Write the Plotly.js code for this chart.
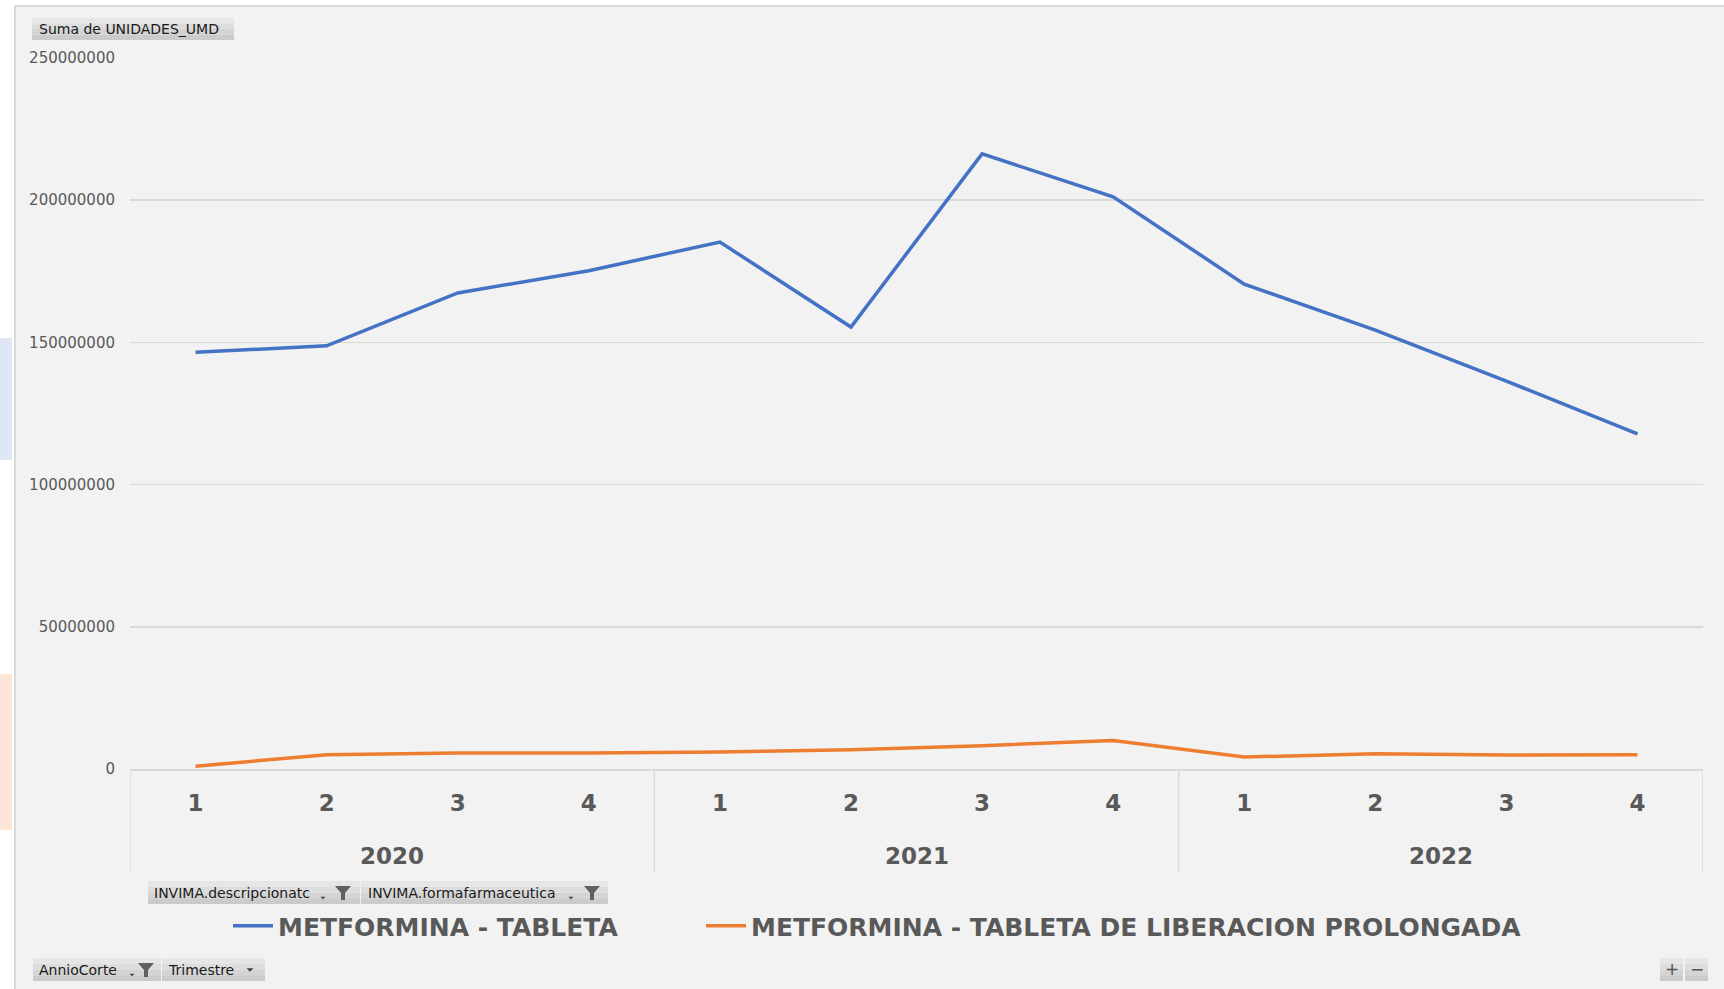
<!DOCTYPE html>
<html>
<head>
<meta charset="utf-8">
<script src="https://cdn.plot.ly/plotly-3.0.1.min.js"></script>
<style>html,body{margin:0;padding:0;background:#fff;}#chart{width:1724px;height:989px;}</style>
</head>
<body>
<div id="chart"></div>
<script>
// ---- data ----
const years = ['2020', '2021', '2022'];
const quarters = ['1', '2', '3', '4', '1', '2', '3', '4', '1', '2', '3', '4'];
const seriesNames = ['METFORMINA - TABLETA', 'METFORMINA - TABLETA DE LIBERACION PROLONGADA'];
const tableta = [146.5e6, 148.8e6, 167.4e6, 175.2e6, 185.3e6, 155.4e6, 216.3e6, 201.2e6, 170.5e6, 154.3e6, 136.4e6, 117.8e6];
const prolongada = [1.0e6, 5.0e6, 5.6e6, 5.6e6, 6.0e6, 6.8e6, 8.2e6, 10.0e6, 4.2e6, 5.4e6, 4.9e6, 5.0e6];
const yTicks = [0, 50000000, 100000000, 150000000, 200000000, 250000000];
const buttonLabels = ['Suma de UNIDADES_UMD', 'INVIMA.descripcionatc', 'INVIMA.formafarmaceutica', 'AnnioCorte', 'Trimestre'];

// ---- geometry (pixels) ----
const L = 130, R = 21, T = 58, B = 220, W = 1724, H = 989;
const PW = W - L - R, PH = H - T - B, BOT = H - B;
const fx = p => (p - L) / PW;
const fy = p => (BOT - p) / PH;

const xIdx = quarters.map((q, i) => i);
const grey = '#595959';

const traces = [
  {x: xIdx, y: tableta, name: seriesNames[0], type: 'scatter', mode: 'lines', legend: 'legend',
   line: {color: '#4472c4', width: 3.5}, hoverinfo: 'skip'},
  {x: xIdx, y: prolongada, name: seriesNames[1], type: 'scatter', mode: 'lines', legend: 'legend2',
   line: {color: '#ed7d31', width: 3.5}, hoverinfo: 'skip'}
];

const shapes = [];
const annotations = [];

// frame background
shapes.push({type: 'rect', xref: 'paper', yref: 'paper', x0: fx(15), x1: fx(1730), y0: fy(995), y1: fy(6),
  fillcolor: '#f2f2f2', line: {color: '#d9d9d9', width: 2}, layer: 'below'});
// left colored strips
shapes.push({type: 'rect', xref: 'paper', yref: 'paper', x0: fx(0), x1: fx(12), y0: fy(460), y1: fy(338),
  fillcolor: '#dfe7f5', line: {width: 0}, layer: 'below'});
shapes.push({type: 'rect', xref: 'paper', yref: 'paper', x0: fx(0), x1: fx(12), y0: fy(830), y1: fy(674),
  fillcolor: '#fbe5d6', line: {width: 0}, layer: 'below'});

// year dividers
[-0.5, 3.5, 7.5, 11.5].forEach(v => {
  shapes.push({type: 'line', xref: 'x', yref: 'paper', x0: v, x1: v, y0: 0, y1: fy(872),
    line: {color: '#d9d9d9', width: 1.5}});
});
// year labels
years.forEach((yr, i) => {
  annotations.push({xref: 'x', yref: 'paper', x: i * 4 + 1.5, y: fy(856), text: '<b>' + yr + '</b>',
    showarrow: false, xanchor: 'center', yanchor: 'middle',
    font: {family: 'DejaVu Sans, sans-serif', size: 23, color: grey}});
});

// pivot-style buttons
function button(x0, x1, y0, y1) {
  const bands = ['#e6e6e6', '#dddddd', '#d4d4d4', '#cbcbcb'];
  const h = (y1 - y0) / bands.length;
  bands.forEach((c, i) => {
    shapes.push({type: 'rect', xref: 'paper', yref: 'paper', x0: fx(x0), x1: fx(x1),
      y0: fy(y0 + h * (i + 1)), y1: fy(y0 + h * i), fillcolor: c, line: {width: 0}});
  });
}
function label(x, y, text, size) {
  annotations.push({xref: 'paper', yref: 'paper', x: fx(x), y: fy(y), text: text, showarrow: false,
    xanchor: 'left', yanchor: 'middle', font: {family: 'DejaVu Sans, sans-serif', size: size || 14, color: '#1a1a1a'}});
}
function poly(pts, color) {
  let d = '';
  pts.forEach((p, i) => { d += (i ? 'L' : 'M') + fx(p[0]) + ',' + fy(p[1]); });
  d += 'Z';
  shapes.push({type: 'path', xref: 'paper', yref: 'paper', path: d, fillcolor: color, line: {width: 0}});
}
function funnel(cx, cy) {
  poly([[cx - 8, cy - 7], [cx + 8, cy - 7], [cx + 2, cy], [cx + 2, cy + 7], [cx - 2, cy + 7], [cx - 2, cy]], '#606060');
}
function arrow(cx, cy, s) {
  poly([[cx - s, cy - s / 2], [cx + s, cy - s / 2], [cx, cy + s / 2]], '#404040');
}

button(32, 234, 18, 40); label(37, 29.5, buttonLabels[0], 14);
button(148, 360, 881, 904); label(152, 893, buttonLabels[1], 14); arrow(323, 898, 2.5); funnel(343, 893);
button(361, 608, 881, 904); label(366, 893, buttonLabels[2], 14); arrow(571, 898, 2.5); funnel(592, 893);
button(33, 161, 958, 981); label(37, 970, buttonLabels[3], 14); arrow(132, 975, 2.5); funnel(146, 970);
button(162, 265, 958, 981); label(166, 970, buttonLabels[4], 14); arrow(250, 970, 3.5);
button(1660, 1683, 958, 981); button(1685, 1708, 958, 981);
annotations.push({xref: 'paper', yref: 'paper', x: fx(1671.5), y: fy(969), text: '+', showarrow: false,
  xanchor: 'center', yanchor: 'middle', font: {family: 'DejaVu Sans, sans-serif', size: 17, color: '#555'}});
annotations.push({xref: 'paper', yref: 'paper', x: fx(1696.5), y: fy(969), text: '−', showarrow: false,
  xanchor: 'center', yanchor: 'middle', font: {family: 'DejaVu Sans, sans-serif', size: 17, color: '#555'}});

const legendFont = {family: 'DejaVu Sans, sans-serif', size: 25, color: grey, weight: 'bold'};
const layout = {
  width: W, height: H,
  margin: {l: L, r: R, t: T, b: B, pad: 0},
  paper_bgcolor: '#ffffff',
  plot_bgcolor: 'rgba(0,0,0,0)',
  showlegend: true,
  legend: {orientation: 'h', x: fx(228), xanchor: 'left', y: fy(926), yanchor: 'middle', itemwidth: 40,
    bgcolor: 'rgba(0,0,0,0)', borderwidth: 0, font: legendFont},
  legend2: {orientation: 'h', x: fx(701), xanchor: 'left', y: fy(926), yanchor: 'middle', itemwidth: 40,
    bgcolor: 'rgba(0,0,0,0)', borderwidth: 0, font: legendFont},
  xaxis: {range: [-0.5, 11.5], tickmode: 'array', tickvals: xIdx, ticktext: quarters.map(q => '<b>' + q + '</b>'),
    showgrid: false, zeroline: false, showline: true, linecolor: '#d9d9d9', linewidth: 1.5,
    ticks: '', ticklabelstandoff: 13,
    tickfont: {family: 'DejaVu Sans, sans-serif', size: 23, color: grey}, fixedrange: true},
  yaxis: {range: [0, 250000000], tickmode: 'array', tickvals: yTicks, ticktext: yTicks.map(v => String(v)),
    showgrid: true, gridcolor: '#d9d9d9', gridwidth: 1.5, zeroline: false, showline: false,
    ticks: '', ticklabelstandoff: 14,
    tickfont: {family: 'DejaVu Sans, sans-serif', size: 15, color: grey}, fixedrange: true},
  shapes: shapes,
  annotations: annotations
};

Plotly.newPlot('chart', traces, layout, {displayModeBar: false, staticPlot: true});
</script>
</body>
</html>
